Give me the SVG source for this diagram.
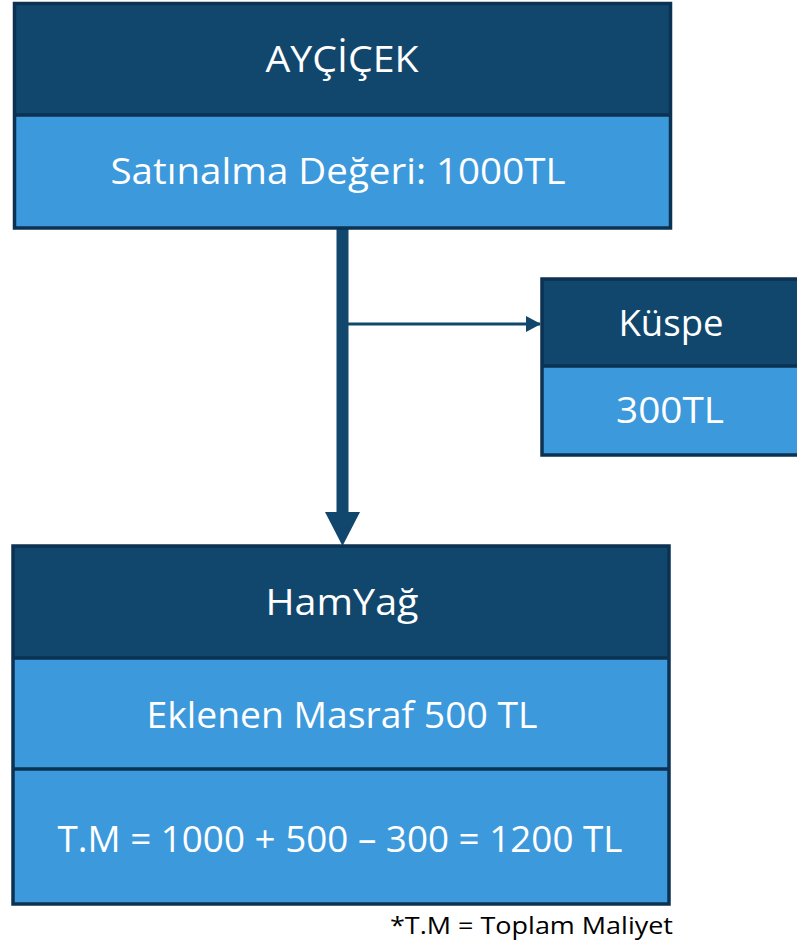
<svg xmlns="http://www.w3.org/2000/svg" width="797" height="943" viewBox="0 0 797 943">
<style>
.hdr{fill:#12476D;}
.bdy{fill:#3C99DC;}
.brd{fill:none;stroke:#0B3252;stroke-width:3.5;}
.div{stroke:#0B3252;stroke-width:3.5;}
.t{font-family:"Open Sans","Noto Sans","DejaVu Sans",sans-serif;fill:#FFFFFF;text-anchor:middle;}
.note{font-family:"Open Sans","Liberation Sans",sans-serif;fill:#000000;font-size:24px;}
.conn{stroke:#12476D;fill:none;}
</style>
<defs>
<marker id="ah" markerUnits="userSpaceOnUse" markerWidth="15" markerHeight="16" refX="14" refY="8" orient="auto">
<path d="M0,0 L15,8 L0,16 Z" fill="#12476D"/>
</marker>
</defs>
<g id="connectors">
<line class="conn" x1="342.5" y1="229" x2="342.5" y2="514" stroke-width="12"/>
<polygon points="325,512 360,512 342.5,546" fill="#12476D"/>
<line class="conn" x1="348" y1="324" x2="540" y2="324" stroke-width="3" marker-end="url(#ah)"/>
</g>
<g id="aycicek">
<rect class="hdr" x="14.5" y="3.5" width="656" height="111.5"/>
<rect class="bdy" x="14.5" y="115" width="656" height="113"/>
<line class="div" x1="14.5" y1="115" x2="670.5" y2="115"/>
<rect class="brd" x="14.5" y="3.5" width="656" height="224.5"/>
<text class="t" x="342" y="72" font-size="36" textLength="153" lengthAdjust="spacingAndGlyphs">AYÇİÇEK</text>
<text class="t" x="338" y="184" font-size="36" textLength="455" lengthAdjust="spacingAndGlyphs">Satınalma Değeri: 1000TL</text>
</g>
<g id="kuspe">
<rect class="hdr" x="542" y="279" width="270" height="87"/>
<rect class="bdy" x="542" y="366" width="270" height="89"/>
<line class="div" x1="542" y1="366" x2="812" y2="366"/>
<rect class="brd" x="542" y="279" width="270" height="176"/>
<text class="t" x="671" y="336" font-size="36" textLength="105" lengthAdjust="spacingAndGlyphs">Küspe</text>
<text class="t" x="670" y="423" font-size="36" textLength="108" lengthAdjust="spacingAndGlyphs">300TL</text>
</g>
<g id="hamyag">
<rect class="hdr" x="13" y="546" width="656" height="112"/>
<rect class="bdy" x="13" y="658" width="656" height="246"/>
<line class="div" x1="13" y1="658" x2="669" y2="658"/>
<line class="div" x1="13" y1="769" x2="669" y2="769"/>
<rect class="brd" x="13" y="546" width="656" height="358"/>
<text class="t" x="342" y="615" font-size="36" textLength="153" lengthAdjust="spacingAndGlyphs">HamYağ</text>
<text class="t" x="342" y="728" font-size="36" textLength="391" lengthAdjust="spacingAndGlyphs">Eklenen Masraf 500 TL</text>
<text class="t" x="340" y="852" font-size="36" textLength="565" lengthAdjust="spacingAndGlyphs">T.M = 1000 + 500 – 300 = 1200 TL</text>
</g>
<text class="note" x="390" y="934" textLength="283" lengthAdjust="spacingAndGlyphs">*T.M = Toplam Maliyet</text>
</svg>
